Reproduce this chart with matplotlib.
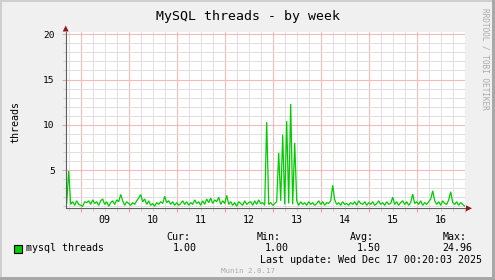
import matplotlib
matplotlib.use("Agg")
import matplotlib.pyplot as plt
from matplotlib.patches import Polygon, Rectangle
from matplotlib.transforms import blended_transform_factory

# ---- data (hours relative to Tue Dec 09 00:00) ----
start_hour = -7
threads = [
    # Dec 08 (17:00 - 23:00)
    1.3, 4.9, 1.2, 1.5, 1.1, 1.6, 1.2,
    # Dec 09
    1.1, 1.0, 1.5, 1.4, 1.6, 1.2, 1.7, 1.3, 1.5, 1.1, 1.6, 1.8,
    1.2, 1.5, 1.0, 1.4, 1.6, 1.2, 1.7, 1.5, 2.3, 1.6, 1.1, 1.5,
    # Dec 10
    1.3, 1.1, 1.4, 1.2, 1.6, 1.9, 2.3, 1.5, 1.8, 1.2, 1.6, 1.1,
    1.3, 1.0, 1.4, 1.2, 1.5, 1.3, 2.1, 1.4, 1.6, 1.2, 1.5, 1.1,
    # Dec 11
    1.4, 1.1, 1.3, 1.6, 1.2, 1.5, 1.1, 1.4, 1.2, 1.7, 1.3, 1.5,
    1.1, 1.6, 1.2, 1.8, 1.4, 1.9, 1.3, 1.7, 1.5, 2.0, 1.2, 1.6,
    # Dec 12
    1.3, 2.2, 1.2, 1.5, 1.1, 1.4, 1.0, 1.5, 1.3, 1.1, 1.6, 1.2,
    1.4, 1.5, 1.1, 1.6, 1.2, 1.7, 1.3, 1.4, 1.1, 10.3, 1.2, 1.4,
    # Dec 13
    1.1, 1.3, 1.5, 6.9, 1.6, 8.9, 1.2, 10.4, 1.3, 12.3, 1.2, 8.0,
    1.6, 1.1, 1.5, 1.2, 1.4, 1.1, 1.5, 1.2, 1.4, 1.1, 1.3, 1.6,
    # Dec 14
    1.2, 1.5, 1.1, 1.4, 1.3, 1.6, 3.3, 1.7, 1.2, 1.4, 1.1, 1.5,
    1.2, 1.3, 1.1, 1.4, 1.2, 1.5, 1.1, 1.6, 1.3, 1.2, 1.5, 1.1,
    # Dec 15
    1.4, 1.2, 1.5, 1.1, 1.3, 1.6, 1.2, 1.4, 1.1, 1.5, 1.2, 1.3,
    2.0, 1.2, 1.5, 1.1, 1.4, 1.6, 1.2, 1.5, 1.1, 1.4, 2.35, 1.3,
    # Dec 16
    1.5, 1.2, 1.6, 1.1, 1.4, 1.2, 1.5, 1.8, 2.7, 1.6, 1.2, 1.5,
    1.1, 1.6, 1.3, 1.2, 1.7, 2.6, 1.4, 1.2, 1.5, 1.1, 1.4, 1.2,
    # Dec 17
    1.0,
]
hours = list(range(start_hour, start_hour + len(threads)))

day_labels = ["09", "10", "11", "12", "13", "14", "15", "16"]
y_ticks = [5, 10, 15, 20]

series_name = "mysql threads"
stat_names = ["Cur:", "Min:", "Avg:", "Max:"]
stat_values = ["1.00", "1.00", "1.50", "24.96"]
title = "MySQL threads - by week"
ylabel = "threads"
last_update = "Last update: Wed Dec 17 00:20:03 2025"
footer = "Munin 2.0.17"
watermark = "RRDTOOL / TOBI OETIKER"

# ---- figure ----
W, H = 495, 280
DPI = 100
plt.rcParams['font.family'] = ['DejaVu Sans Mono']
fig = plt.figure(figsize=(W / DPI, H / DPI), dpi=DPI, facecolor="#F0F0F0")

def fx(px):
    return px / W

def fy(py):
    return 1 - py / H

# border shading
fig.add_artist(Rectangle((0, fy(2)), 1, 2 / H, transform=fig.transFigure, color="#CFCFCF", lw=0))
fig.add_artist(Rectangle((0, 0), 2 / W, 1, transform=fig.transFigure, color="#CFCFCF", lw=0))
fig.add_artist(Rectangle((0, 0), 1, 3 / H, transform=fig.transFigure, color="#A8A8A8", lw=0))
fig.add_artist(Rectangle((fx(W - 3), 0), 3 / W, 1, transform=fig.transFigure, color="#A8A8A8", lw=0))

ax_l, ax_r, ax_t, ax_b = 65.7, 465.0, 31.5, 208.3
ax = fig.add_axes([fx(ax_l), fy(ax_b), fx(ax_r - ax_l), (ax_b - ax_t) / H])
ax.set_facecolor("white")

ax.set_xlim(-7.5, 192.15)
ax.set_ylim(0.77, 20.31)

# grid
ax.set_xticks(list(range(0, 193, 24)))
ax.set_xticks([h for h in range(-6, 193, 6) if h % 24 != 0], minor=True)
ax.set_yticks(y_ticks)
ax.set_yticks([v for v in range(1, 21) if v % 5 != 0], minor=True)
ax.grid(which="minor", color="#E0E0E0", lw=0.7)
ax.grid(which="major", color="#F6B8B8", lw=0.8)
ax.set_axisbelow(True)
ax.tick_params(axis="both", which="major", length=3, width=0.8, color="#F4A0A0", direction="out")
ax.tick_params(axis="both", which="minor", length=2, width=0.7, color="#CCCCCC", direction="out")
ax.set_xticklabels([])
ax.tick_params(axis="y", labelsize=6.8, pad=5, labelcolor="black")

for s in ["top", "right"]:
    ax.spines[s].set_visible(False)
for s in ["left", "bottom"]:
    ax.spines[s].set_color("#606060")
    ax.spines[s].set_linewidth(0.8)

# data line
ax.plot(hours, threads, color="#00CC00", lw=0.9, solid_joinstyle="miter")

# day labels centered at noon
trans = blended_transform_factory(ax.transData, fig.transFigure)
for i, lab in enumerate(day_labels):
    ax.text(i * 24 + 12, fy(220), lab, transform=trans, ha="center", va="center", fontsize=7.2)

# arrows
arrow_col = "#8B1A1A"
fig.add_artist(Polygon([(fx(ax_l - 3), fy(31.5)), (fx(ax_l + 3), fy(31.5)), (fx(ax_l), fy(25.5))],
                       closed=True, transform=fig.transFigure, color=arrow_col, lw=0))
fig.add_artist(Polygon([(fx(466), fy(ax_b - 3)), (fx(466), fy(ax_b + 3)), (fx(472), fy(ax_b))],
                       closed=True, transform=fig.transFigure, color=arrow_col, lw=0))

# texts
fig.text(fx(248), fy(16.5), title, ha="center", va="center", fontsize=9.5)
fig.text(fx(15), fy(122), ylabel, ha="center", va="center", rotation=90, fontsize=7.2)
fig.text(fx(485), fy(59), watermark, ha="center", va="center", rotation=-90, fontsize=5.6, color="#AAAAAA")

# legend
fig.add_artist(Rectangle((fx(14), fy(252.5)), 8 / W, 7.5 / H, transform=fig.transFigure,
                         facecolor="#00CC00", edgecolor="black", lw=0.8))
fig.text(fx(26.5), fy(248.3), series_name, ha="left", va="center", fontsize=7.2)

name_x = [166.5, 257.0, 349.8, 442.5]
val_right = [196.5, 288.5, 380.5, 472.5]
for n, v, nx, vx in zip(stat_names, stat_values, name_x, val_right):
    fig.text(fx(nx), fy(236.7), n, ha="left", va="center", fontsize=7.2)
    fig.text(fx(vx), fy(248.3), v, ha="right", va="center", fontsize=7.2)

fig.text(fx(481.5), fy(260), last_update, ha="right", va="center", fontsize=7.2)
fig.text(fx(248), fy(270.7), footer, ha="center", va="center", fontsize=5.4, color="#AAAAAA")

fig.savefig("out.png", dpi=DPI, facecolor=fig.get_facecolor())
